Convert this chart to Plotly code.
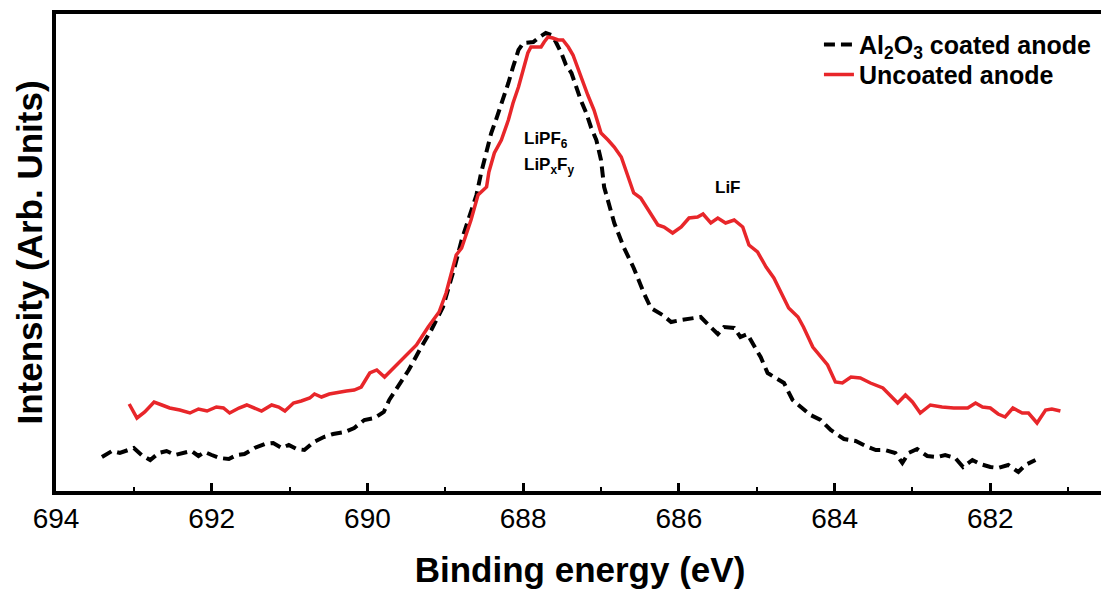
import plotly.graph_objects as go

# Binding energy (eV) and intensity (arb. units)
coated_ev = [693.41, 693.28, 693.18, 693.00, 692.90, 692.79, 692.68, 692.58, 692.47, 692.35,
             692.26, 692.17, 692.09, 692.00, 691.90, 691.78, 691.68, 691.58, 691.45, 691.32,
             691.21, 691.10, 691.01, 690.91, 690.81, 690.69, 690.56, 690.44, 690.29, 690.17,
             690.04, 689.91, 689.79, 689.72, 689.60, 689.47, 689.33, 689.18, 689.03, 688.95,
             688.88, 688.79, 688.71, 688.60, 688.54, 688.45, 688.41, 688.35, 688.26, 688.19,
             688.13, 688.06, 688.00, 687.87, 687.79, 687.71, 687.64, 687.58, 687.51, 687.45,
             687.38, 687.32, 687.26, 687.19, 687.13, 687.06, 687.00, 686.96, 686.83, 686.71,
             686.58, 686.45, 686.36, 686.21, 686.10, 685.97, 685.82, 685.72, 685.62, 685.50,
             685.42, 685.29, 685.21, 685.12, 685.04, 684.95, 684.86, 684.76, 684.65, 684.54,
             684.44, 684.31, 684.18, 684.05, 683.88, 683.73, 683.60, 683.47, 683.35, 683.22,
             683.13, 683.05, 682.94, 682.81, 682.68, 682.58, 682.45, 682.35, 682.23, 682.13,
             682.00, 681.90, 681.77, 681.64, 681.55, 681.42]
coated_int = [35, 41, 39, 44, 37, 32, 39, 41, 37, 39,
              41, 36, 40, 37, 34, 33, 37, 38, 44, 48,
              49, 44, 47, 43, 42, 50, 55, 58, 60, 64,
              72, 74, 80, 92, 107, 122, 142, 162, 185, 205,
              225, 252, 272, 297, 319, 345, 359, 372, 392, 409,
              425, 442, 449, 450, 455, 459, 457, 450, 439, 427,
              419, 405, 392, 379, 365, 352, 332, 305, 269, 245,
              224, 199, 184, 177, 170, 172, 174, 175, 167, 158,
              165, 164, 155, 158, 147, 135, 119, 114, 109, 92,
              85, 77, 72, 62, 53, 51, 46, 42, 42, 39,
              29, 39, 43, 36, 35, 37, 34, 25, 32, 28,
              25, 24, 27, 20, 27, 32]

uncoated_ev = [693.06, 692.96, 692.86, 692.74, 692.64, 692.54, 692.41, 692.28, 692.17, 692.06,
               691.94, 691.85, 691.77, 691.65, 691.55, 691.45, 691.36, 691.23, 691.14, 691.06,
               690.95, 690.85, 690.74, 690.68, 690.59, 690.49, 690.37, 690.27, 690.17, 690.08,
               689.97, 689.88, 689.78, 689.65, 689.53, 689.37, 689.22, 689.08, 688.99, 688.92,
               688.86, 688.79, 688.73, 688.67, 688.58, 688.47, 688.44, 688.37, 688.28, 688.19,
               688.13, 688.06, 688.00, 687.94, 687.90, 687.77, 687.73, 687.68, 687.62, 687.55,
               687.49, 687.42, 687.36, 687.29, 687.23, 687.17, 687.09, 687.00, 686.91, 686.83,
               686.74, 686.68, 686.58, 686.49, 686.38, 686.27, 686.19, 686.08, 685.97, 685.87,
               685.76, 685.69, 685.59, 685.50, 685.40, 685.29, 685.18, 685.10, 684.99, 684.88,
               684.78, 684.67, 684.59, 684.47, 684.40, 684.28, 684.14, 684.09, 683.99, 683.90,
               683.79, 683.67, 683.54, 683.38, 683.19, 683.09, 683.00, 682.90, 682.77, 682.62,
               682.47, 682.29, 682.19, 682.10, 682.00, 681.90, 681.81, 681.71, 681.59, 681.51,
               681.40, 681.29, 681.21, 681.10]
uncoated_int = [88, 74, 80, 90, 87, 84, 82, 79, 83, 81,
                85, 84, 79, 84, 87, 84, 81, 87, 85, 81,
                89, 91, 94, 98, 95, 98, 100, 101, 102, 105,
                119, 122, 115, 125, 134, 147, 165, 180, 199, 219,
                237, 244, 257, 272, 297, 305, 320, 339, 352, 372,
                389, 405, 422, 439, 445, 445, 450, 455, 454, 452,
                452, 445, 437, 422, 409, 397, 382, 359, 352, 345,
                335, 322, 299, 294, 280, 267, 265, 259, 265, 274,
                275, 278, 269, 274, 269, 272, 265, 247, 240, 225,
                214, 197, 184, 175, 165, 145, 132, 127, 110, 109,
                115, 114, 109, 104, 89, 97, 90, 79, 87, 85,
                84, 84, 89, 85, 84, 78, 75, 84, 79, 79,
                69, 82, 83, 81]

series_names = ["Al<sub>2</sub>O<sub>3</sub> coated anode", "Uncoated anode"]
x_ticks = [694, 692, 690, 688, 686, 684, 682]
peak_labels = ["LiPF<sub>6</sub>", "LiP<sub>x</sub>F<sub>y</sub>", "LiF"]

BOLD = "Arial, Liberation Sans, Helvetica, sans-serif"

fig = go.Figure()
fig.add_trace(go.Scatter(x=coated_ev, y=coated_int, mode="lines",
                         name="<b>" + series_names[0] + "</b>", legend="legend",
                         line=dict(color="black", width=4, dash="11px,6px")))
fig.add_trace(go.Scatter(x=uncoated_ev, y=uncoated_int, mode="lines",
                         name="<b>" + series_names[1] + "</b>", legend="legend2",
                         line=dict(color="#e8262a", width=3.5)))

fig.add_annotation(x=688.02, y=352, text="<b>" + peak_labels[0] + "</b>", showarrow=False,
                   xanchor="left", font=dict(family=BOLD, size=17, color="black"))
fig.add_annotation(x=688.02, y=326, text="<b>" + peak_labels[1] + "</b>", showarrow=False,
                   xanchor="left", font=dict(family=BOLD, size=17, color="black"))
fig.add_annotation(x=685.37, y=305, text="<b>" + peak_labels[2] + "</b>", showarrow=False,
                   font=dict(family=BOLD, size=17, color="black"))

legend_style = dict(xanchor="left", yanchor="top", bgcolor="rgba(0,0,0,0)", borderwidth=0,
                    font=dict(family=BOLD, size=25, color="black"), itemwidth=30)

# the page body adds an 8px offset, so the figure is sized to fill the rest of the window
fig.update_layout(
    template="none",
    width=1101, height=582,
    margin=dict(l=48, r=5, t=6, b=99, autoexpand=False),
    paper_bgcolor="white", plot_bgcolor="white",
    showlegend=True,
    legend=dict(x=0.728, y=0.984, **legend_style),
    legend2=dict(x=0.728, y=0.921, **legend_style),
    xaxis=dict(range=[694, 680.54], tickvals=x_ticks, ticktext=[str(v) for v in x_ticks],
               ticks="inside", ticklen=8, tickwidth=2.5, tickcolor="black",
               minor=dict(dtick=1, tick0=681, ticks="inside", ticklen=4, tickwidth=2, tickcolor="black"),
               showline=True, linewidth=3.5, linecolor="black", mirror=True,
               showgrid=False, zeroline=False, automargin=False,
               tickfont=dict(family=BOLD, size=28, color="black"),
               title=dict(text="<b>Binding energy (eV)</b>", standoff=25,
                          font=dict(family=BOLD, size=35, color="black"))),
    yaxis=dict(range=[1, 478], showticklabels=False, ticks="",
               showline=True, linewidth=3.5, linecolor="black", mirror=True,
               showgrid=False, zeroline=False, automargin=False,
               title=dict(text="<b>Intensity (Arb. Units)</b>", standoff=0,
                          font=dict(family=BOLD, size=35, color="black"))),
)

fig.write_html("out.html")
